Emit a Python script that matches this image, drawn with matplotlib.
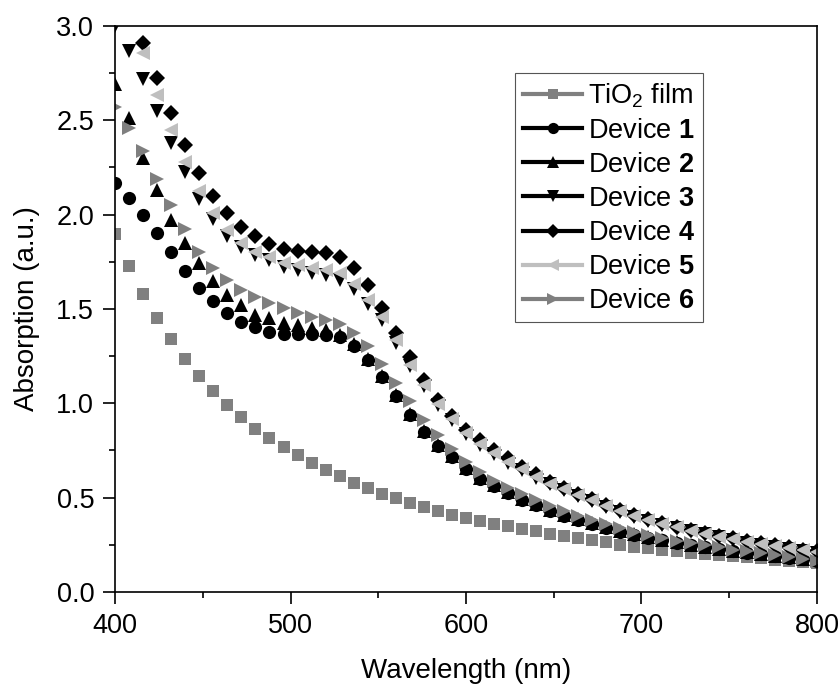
import matplotlib
matplotlib.use("Agg")
import matplotlib.pyplot as plt
from matplotlib.lines import Line2D
from matplotlib.ticker import MultipleLocator
import numpy as np

plt.rcParams['font.family'] = ['Liberation Sans', 'DejaVu Sans']
plt.rcParams['mathtext.fontset'] = 'custom'
plt.rcParams['mathtext.rm'] = 'Liberation Sans'
plt.rcParams['mathtext.bf'] = 'Liberation Sans:bold'

# wavelength grid (nm), one point every 8 nm
wavelength = np.arange(400, 801, 8)

tio2 = [1.90, 1.73, 1.58, 1.45, 1.34, 1.235, 1.145, 1.065, 0.99, 0.925, 0.866, 0.815, 0.768,
        0.725, 0.685, 0.649, 0.614, 0.58, 0.549, 0.522, 0.496, 0.471, 0.449, 0.428, 0.408,
        0.393, 0.376, 0.362, 0.348, 0.334, 0.321, 0.308, 0.297, 0.286, 0.275, 0.263, 0.251,
        0.241, 0.232, 0.224, 0.216, 0.209, 0.202, 0.196, 0.19, 0.184, 0.178, 0.172, 0.166,
        0.16, 0.155]
device1 = [2.17, 2.09, 2.00, 1.905, 1.80, 1.70, 1.61, 1.54, 1.478, 1.433, 1.405, 1.38, 1.37,
           1.366, 1.366, 1.362, 1.35, 1.305, 1.23, 1.14, 1.04, 0.94, 0.85, 0.775, 0.715,
           0.65, 0.60, 0.56, 0.525, 0.49, 0.46, 0.43, 0.405, 0.38, 0.36, 0.34, 0.32,
           0.302, 0.288, 0.274, 0.26, 0.248, 0.237, 0.227, 0.217, 0.208, 0.199, 0.19, 0.182,
           0.174, 0.166]
device2 = [2.69, 2.51, 2.30, 2.13, 1.97, 1.85, 1.745, 1.648, 1.575, 1.52, 1.47, 1.45, 1.425,
           1.415, 1.40, 1.39, 1.362, 1.315, 1.235, 1.145, 1.045, 0.945, 0.855, 0.78, 0.72,
           0.655, 0.605, 0.565, 0.53, 0.495, 0.465, 0.435, 0.41, 0.385, 0.364, 0.344, 0.324,
           0.306, 0.291, 0.277, 0.263, 0.25, 0.239, 0.229, 0.219, 0.21, 0.2, 0.191, 0.183,
           0.175, 0.167]
device3 = [3.00, 2.87, 2.72, 2.55, 2.38, 2.225, 2.085, 1.975, 1.885, 1.83, 1.787, 1.76, 1.725,
           1.707, 1.69, 1.68, 1.655, 1.605, 1.525, 1.44, 1.32, 1.20, 1.09, 0.99, 0.91,
           0.84, 0.78, 0.73, 0.685, 0.645, 0.605, 0.57, 0.54, 0.51, 0.48, 0.452, 0.425,
           0.40, 0.377, 0.357, 0.338, 0.321, 0.305, 0.29, 0.276, 0.262, 0.25, 0.237, 0.226,
           0.215, 0.205]
device4 = [3.35, 3.10, 2.91, 2.725, 2.54, 2.37, 2.22, 2.10, 2.01, 1.935, 1.885, 1.845, 1.82,
           1.805, 1.80, 1.795, 1.778, 1.715, 1.625, 1.505, 1.375, 1.245, 1.125, 1.02, 0.935,
           0.86, 0.805, 0.753, 0.708, 0.665, 0.623, 0.585, 0.553, 0.522, 0.492, 0.463, 0.436,
           0.41, 0.387, 0.366, 0.347, 0.33, 0.314, 0.299, 0.285, 0.271, 0.259, 0.247, 0.236,
           0.225, 0.215]
device5 = [3.35, 3.08, 2.855, 2.635, 2.45, 2.277, 2.125, 2.007, 1.92, 1.85, 1.803, 1.777, 1.743,
           1.733, 1.715, 1.706, 1.69, 1.63, 1.55, 1.46, 1.335, 1.205, 1.095, 0.995, 0.915,
           0.845, 0.785, 0.735, 0.69, 0.65, 0.61, 0.575, 0.545, 0.515, 0.486, 0.458, 0.43,
           0.405, 0.382, 0.361, 0.342, 0.325, 0.309, 0.294, 0.28, 0.266, 0.254, 0.242, 0.231,
           0.22, 0.21]
device6 = [2.57, 2.46, 2.335, 2.19, 2.05, 1.925, 1.80, 1.717, 1.655, 1.60, 1.565, 1.53, 1.503,
           1.478, 1.46, 1.442, 1.418, 1.375, 1.305, 1.21, 1.11, 1.01, 0.91, 0.83, 0.76,
           0.69, 0.635, 0.59, 0.553, 0.518, 0.485, 0.455, 0.428, 0.403, 0.38, 0.358, 0.337,
           0.318, 0.301, 0.286, 0.272, 0.259, 0.247, 0.236, 0.225, 0.215, 0.205, 0.195, 0.185,
           0.175, 0.165]

labels = ["TiO$_2$ film", r"Device $\mathbf{1}$", r"Device $\mathbf{2}$", r"Device $\mathbf{3}$",
          r"Device $\mathbf{4}$", r"Device $\mathbf{5}$", r"Device $\mathbf{6}$"]
series = [tio2, device1, device2, device3, device4, device5, device6]
markers = ['s', 'o', '^', 'v', 'D', '<', '>']
colors = ['#808080', '#000000', '#000000', '#000000', '#000000', '#bfbfbf', '#7f7f7f']
sizes = [8.5, 9.5, 10.5, 10.5, 8.5, 10.5, 10.5]

fig = plt.figure(figsize=(8.4, 6.84), dpi=100)
ax = fig.add_axes([0.137, 0.1345, 0.8355, 0.8275])

handles = []
for y, m, c, s, lab in zip(series, markers, colors, sizes, labels):
    ax.plot(wavelength, y, linestyle='none', marker=m, color=c, markersize=s,
            markeredgewidth=0)
    handles.append(Line2D([], [], color=c, linewidth=3, marker=m, markersize=s * 0.85,
                          markeredgewidth=0, label=lab))

ax.set_xlim(400, 800)
ax.set_ylim(0, 3.0)
ax.xaxis.set_major_locator(MultipleLocator(100))
ax.xaxis.set_minor_locator(MultipleLocator(50))
ax.yaxis.set_major_locator(MultipleLocator(0.5))
ax.yaxis.set_minor_locator(MultipleLocator(0.25))
ax.yaxis.set_major_formatter(plt.FuncFormatter(lambda v, p: f"{v:.1f}"))
ax.tick_params(which='major', direction='out', length=8.5, width=1.2, labelsize=19.5, pad=6.5)
ax.tick_params(which='minor', direction='out', length=4, width=1.2)
ax.tick_params(top=False, right=False)
for sp in ax.spines.values():
    sp.set_linewidth(1.2)

ax.set_xlabel("Wavelength (nm)", fontsize=20, labelpad=14)
ax.set_ylabel("Absorption (a.u.)", fontsize=20, labelpad=12)

leg = ax.legend(handles=handles, loc='upper right', bbox_to_anchor=(0.838, 0.917),
                borderaxespad=0, fontsize=19.5, fancybox=False, edgecolor='#555555',
                handlelength=2.2, handletextpad=0.2, labelspacing=0.3,
                borderpad=0.3, framealpha=1)
leg.get_frame().set_linewidth(0.8)

fig.savefig("out.png", dpi=100)
